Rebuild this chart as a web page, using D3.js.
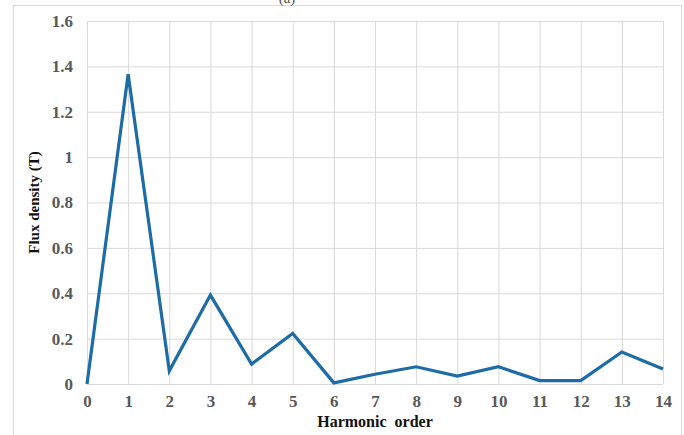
<!DOCTYPE html>
<html>
<head>
<meta charset="utf-8">
<script src="https://cdn.jsdelivr.net/npm/d3@7/dist/d3.min.js"></script>
<style>
  html, body { margin: 0; padding: 0; background: #fff; }
  svg { display: block; }
</style>
</head>
<body>
<svg id="chart" width="684" height="435"></svg>
<script>
// Harmonic spectrum of the flux density
const harmonicOrders = [0, 1, 2, 3, 4, 5, 6, 7, 8, 9, 10, 11, 12, 13, 14];
const fluxDensity = [0.0, 1.365, 0.058, 0.392, 0.088, 0.223, 0.005, 0.043, 0.076, 0.035, 0.076, 0.015, 0.015, 0.141, 0.066];
const yTicks = [0, 0.2, 0.4, 0.6, 0.8, 1, 1.2, 1.4, 1.6];
const yTickLabels = ["0", "0.2", "0.4", "0.6", "0.8", "1", "1.2", "1.4", "1.6"];
const xTitle = "Harmonic  order";
const yTitle = "Flux density (T)";
const panelLabel = "(a)";

const svg = d3.select("#chart");
const margin = { left: 87, right: 21, top: 21, bottom: 51 };
const W = 684, H = 435;
const iw = W - margin.left - margin.right;
const ih = H - margin.top - margin.bottom;

// outer frame
svg.append("rect")
  .attr("x", 13.5).attr("y", 5.5)
  .attr("width", 668).attr("height", 440)
  .attr("fill", "none").attr("stroke", "#d9d9d9");

// panel caption sitting above the frame
svg.append("text")
  .attr("x", 287).attr("y", 3)
  .attr("text-anchor", "middle")
  .attr("font-family", "Liberation Serif, serif")
  .attr("font-size", 15).attr("fill", "#555")
  .text(panelLabel);

const g = svg.append("g").attr("transform", `translate(${margin.left},${margin.top})`);

const x = d3.scaleLinear().domain([0, 14]).range([0, iw]);
const y = d3.scaleLinear().domain([0, 1.6]).range([ih, 0]);

// vertical gridlines
g.append("g")
  .attr("transform", `translate(0,${ih})`)
  .call(d3.axisBottom(x).tickValues(harmonicOrders).tickSize(-ih).tickFormat(""))
  .call(a => a.select(".domain").remove())
  .call(a => a.selectAll("line").attr("stroke", "#d9d9d9"));

// horizontal gridlines
g.append("g")
  .call(d3.axisLeft(y).tickValues(yTicks).tickSize(-iw).tickFormat(""))
  .call(a => a.select(".domain").remove())
  .call(a => a.selectAll("line").attr("stroke", "#d9d9d9"));

// right boundary of the plot
g.append("line")
  .attr("x1", iw + 0.5).attr("x2", iw + 0.5).attr("y1", 0).attr("y2", ih)
  .attr("stroke", "#d9d9d9");

// axis tick labels
const xAxis = g.append("g")
  .attr("transform", `translate(0,${ih})`)
  .call(d3.axisBottom(x).tickValues(harmonicOrders).tickSize(0).tickPadding(11).tickFormat(d3.format("d")));
xAxis.select(".domain").remove();
xAxis.selectAll("text")
  .attr("font-family", "Liberation Serif, serif")
  .attr("font-size", 17).attr("font-weight", "bold").attr("fill", "#595959");

const yAxis = g.append("g")
  .call(d3.axisLeft(y).tickValues(yTicks).tickSize(0).tickPadding(14)
    .tickFormat((d, i) => yTickLabels[i]));
yAxis.select(".domain").remove();
yAxis.selectAll("text")
  .attr("font-family", "Liberation Serif, serif")
  .attr("font-size", 17).attr("font-weight", "bold").attr("fill", "#595959");

// axis titles
svg.append("text")
  .attr("x", margin.left + iw / 2).attr("y", 427)
  .attr("text-anchor", "middle")
  .attr("font-family", "Liberation Serif, serif")
  .attr("font-size", 16).attr("font-weight", "bold").attr("fill", "#111")
  .attr("xml:space", "preserve")
  .text(xTitle);

svg.append("text")
  .attr("transform", `translate(39,${margin.top + ih / 2}) rotate(-90)`)
  .attr("text-anchor", "middle")
  .attr("font-family", "Liberation Serif, serif")
  .attr("font-size", 15).attr("font-weight", "bold").attr("fill", "#111")
  .text(yTitle);

// data line
const line = d3.line().x((d, i) => x(harmonicOrders[i])).y(d => y(d));
g.append("path")
  .datum(fluxDensity)
  .attr("fill", "none")
  .attr("stroke", "#1d6ca6")
  .attr("stroke-width", 3.2)
  .attr("stroke-linejoin", "miter")
  .attr("d", line);
</script>
</body>
</html>
